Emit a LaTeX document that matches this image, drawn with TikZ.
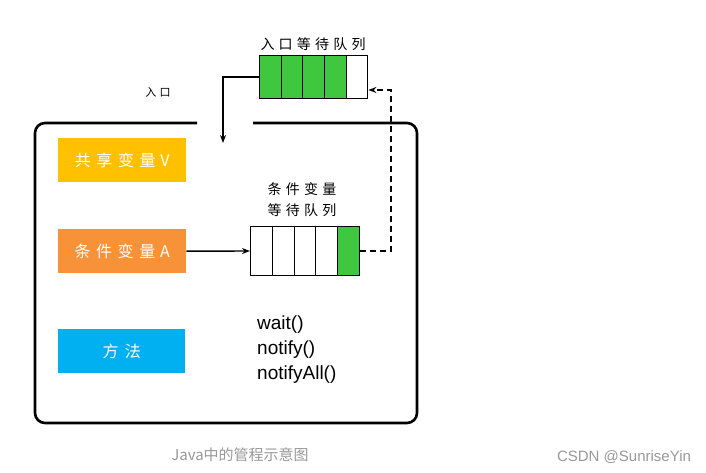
\documentclass[tikz,border=0pt]{standalone}
\usepackage{fontspec}
\setmainfont{Liberation Sans}
\newfontfamily\cjk{Noto Sans CJK SC}
\usetikzlibrary{arrows.meta}
\definecolor{qgreen}{HTML}{3FC83F}
\definecolor{vyellow}{HTML}{FFC000}
\definecolor{aorange}{HTML}{F79238}
\definecolor{mblue}{HTML}{00B0F0}
\definecolor{capgray}{HTML}{999999}
\newcommand{\gp}{\hspace{0.3em}}
\tikzset{
  x=1pt, y=-1pt,
  cell/.style={draw=black, line width=1pt, minimum width=21.6pt, minimum height=43pt, inner sep=0pt, anchor=north west},
  cellc/.style={draw=black, line width=1pt, minimum width=21.8pt, minimum height=49pt, inner sep=0pt, anchor=north west},
  colbox/.style={minimum width=128pt, minimum height=44pt, inner sep=0pt, anchor=north west, text=white, font=\cjk\fontsize{16}{18}\selectfont},
  lbl/.style={font=\cjk\fontsize{14}{16}\selectfont, inner sep=0pt},
  conn/.style={line width=1.4pt, -{Stealth[length=8pt,width=6pt]}},
}
\begin{document}
\begin{tikzpicture}
\useasboundingbox (0,0) rectangle (706,473);
\fill[white] (0,0) rectangle (706,473);
% main frame
\draw[line width=2.6pt, rounded corners=10pt] (197,123) -- (35,123) -- (35,423) -- (417,423) -- (417,123) -- (253,123);
% entry queue
\foreach \i in {0,1,2,3} {
  \node[cell, fill=qgreen] (e\i) at ({259+21.7*\i},55) {};
}
\node[cell, fill=white] (e4) at ({259+21.7*4},55) {};
\node[lbl, anchor=south] (elbl) at (313,51) {入\gp 口\gp 等\gp 待\gp 队\gp 列};
\node[font=\cjk\fontsize{11}{12}\selectfont, inner sep=0pt] (ru) at (158,92) {入\gp 口};
\coordinate (ebend) at (223,77);
\coordinate (eend) at (223,143);
\draw[conn] (e0.west) -- (ebend) -- (eend);
% boxes
\node[colbox, fill=vyellow] (v) at (58,138) {共\hspace{0.35em}享\hspace{0.35em}变\hspace{0.35em}量\hspace{0.3em}V};
\node[colbox, fill=aorange] (a) at (58,229) {条\hspace{0.35em}件\hspace{0.35em}变\hspace{0.35em}量\hspace{0.3em}A};
\node[colbox, fill=mblue, minimum width=127pt] (m) at (58,329) {方\hspace{0.4em}法};
% condition queue
\foreach \i in {0,1,2,3} {
  \node[cellc, fill=white] (c\i) at ({250+21.8*\i},226) {};
}
\node[cellc, fill=qgreen] (c4) at ({250+21.8*4},226) {};
\node[lbl, align=center] (clbl) at (302,200) {条\gp 件\gp 变\gp 量\\[5pt]等\gp 待\gp 队\gp 列};
\draw[conn] (a.east) -- (c0.west);
% dashed return
\coordinate (d1) at (391,251);
\coordinate (d2) at (391,90);
\draw[line width=1.4pt, dash pattern=on 6pt off 4pt, -{Stealth[length=8pt,width=6pt]}] (c4.east |- 0,251) -- (d1) -- (d2) -- (e4.east |- 0,90);
% methods
\node[font=\fontsize{19}{25}\selectfont, align=left, anchor=north west, inner sep=0pt] (meth) at (257,316) {wait()\\notify()\\notifyAll()};
% captions
\node[font=\cjk\fontsize{15}{16}\selectfont, text=capgray, inner sep=0pt] (cap) at (240,455) {Java中的管程示意图};
\node[font=\fontsize{15}{16}\selectfont, text=capgray, inner sep=0pt] (csdn) at (624,457) {CSDN @SunriseYin};
\end{tikzpicture}
\end{document}
